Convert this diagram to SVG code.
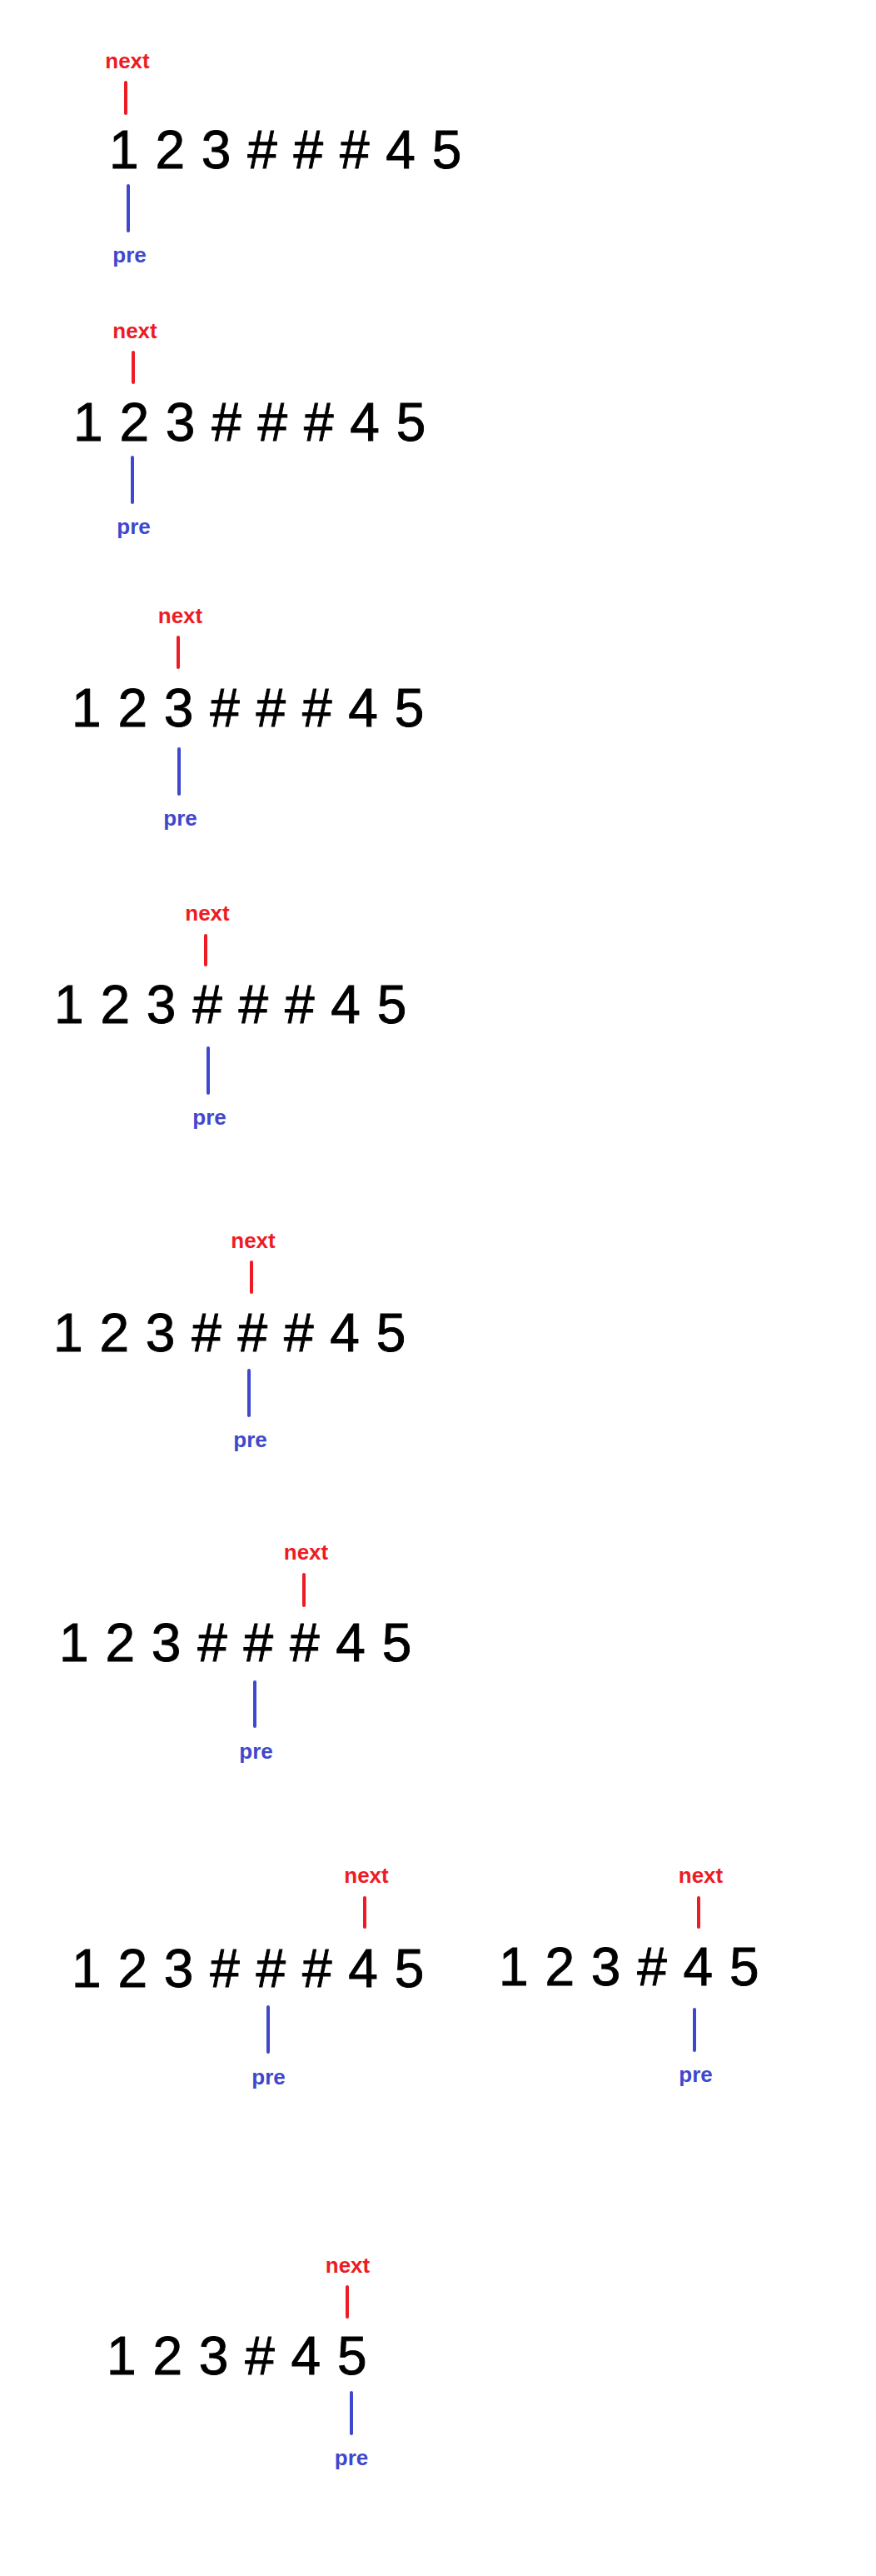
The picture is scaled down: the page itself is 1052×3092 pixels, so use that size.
<svg xmlns="http://www.w3.org/2000/svg" width="1052" height="3092" viewBox="0 0 1052 3092">
<style>
.seq{font-family:"Liberation Sans",Arial,sans-serif;font-size:64px;letter-spacing:1px;fill:#000;stroke:#000;stroke-width:0.9px}
.nx{font-family:"Liberation Sans",Arial,sans-serif;font-size:26px;font-weight:bold;fill:#ED1C24;text-anchor:middle}
.pr{font-family:"Liberation Sans",Arial,sans-serif;font-size:26px;font-weight:bold;fill:#3F48CC;text-anchor:middle}
.rl{stroke:#ED1C24;stroke-width:4;stroke-linecap:round}
.bl{stroke:#3F48CC;stroke-width:4;stroke-linecap:round}
</style>
<rect width="1052" height="3092" fill="#fff"/>
<g id="step1"><text class="seq" x="131" y="202">1 2 3 # # # 4 5</text><text class="nx" x="153" y="82">next</text><text class="pr" x="155.5" y="315">pre</text></g>
<g id="step2"><text class="seq" x="88" y="529">1 2 3 # # # 4 5</text><text class="nx" x="162" y="406">next</text><text class="pr" x="160.5" y="641">pre</text></g>
<g id="step3"><text class="seq" x="86" y="872">1 2 3 # # # 4 5</text><text class="nx" x="216.5" y="748">next</text><text class="pr" x="216.5" y="991">pre</text></g>
<g id="step4"><text class="seq" x="65" y="1228">1 2 3 # # # 4 5</text><text class="nx" x="249" y="1105">next</text><text class="pr" x="251.5" y="1350">pre</text></g>
<g id="step5"><text class="seq" x="64" y="1622">1 2 3 # # # 4 5</text><text class="nx" x="304" y="1498">next</text><text class="pr" x="300.5" y="1737">pre</text></g>
<g id="step6"><text class="seq" x="71" y="1994">1 2 3 # # # 4 5</text><text class="nx" x="367.5" y="1872">next</text><text class="pr" x="307.5" y="2111">pre</text></g>
<g id="step7"><text class="seq" x="86" y="2385">1 2 3 # # # 4 5</text><text class="nx" x="440" y="2260">next</text><text class="pr" x="322.5" y="2502">pre</text></g>
<g id="step8"><text class="seq" x="599" y="2383">1 2 3 # 4 5</text><text class="nx" x="841.5" y="2260">next</text><text class="pr" x="835.5" y="2499">pre</text></g>
<g id="step9"><text class="seq" x="128" y="2850">1 2 3 # 4 5</text><text class="nx" x="417.5" y="2728">next</text><text class="pr" x="422" y="2959">pre</text></g>
<g id="connectors">
<line class="rl" x1="151" y1="99" x2="151" y2="136"/><line class="bl" x1="154" y1="223" x2="154" y2="277"/>
<line class="rl" x1="160" y1="423" x2="160" y2="459"/><line class="bl" x1="159" y1="549" x2="159" y2="603"/>
<line class="rl" x1="214" y1="765" x2="214" y2="801"/><line class="bl" x1="215" y1="899" x2="215" y2="953"/>
<line class="rl" x1="247" y1="1123" x2="247" y2="1158"/><line class="bl" x1="250" y1="1258" x2="250" y2="1312"/>
<line class="rl" x1="302" y1="1515" x2="302" y2="1551"/><line class="bl" x1="299" y1="1645" x2="299" y2="1699"/>
<line class="rl" x1="365" y1="1890" x2="365" y2="1927"/><line class="bl" x1="306" y1="2019" x2="306" y2="2072"/>
<line class="rl" x1="438" y1="2278" x2="438" y2="2313"/><line class="bl" x1="322" y1="2409" x2="322" y2="2463"/>
<line class="rl" x1="839" y1="2278" x2="839" y2="2313"/><line class="bl" x1="834" y1="2412" x2="834" y2="2461"/>
<line class="rl" x1="417" y1="2745" x2="417" y2="2781"/><line class="bl" x1="422" y1="2872" x2="422" y2="2921"/>
</g>
</svg>
